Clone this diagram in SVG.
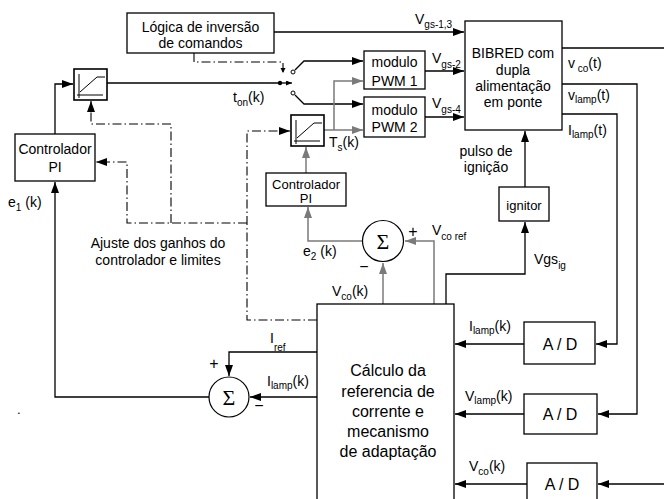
<svg xmlns="http://www.w3.org/2000/svg" width="664" height="499" viewBox="0 0 664 499">
<style>
text{font-family:"Liberation Sans",Arial,sans-serif;fill:#000}
.t14{font-size:14px}
.t13{font-size:13px}
.t16{font-size:16px}
.c{text-anchor:middle}
.sub{font-size:10px}
.box{fill:#fff;stroke:#000;stroke-width:1.3}
.ln{fill:none;stroke:#000;stroke-width:1.3}
.gl{fill:none;stroke:#7a7a7a;stroke-width:1.5}
.dd{fill:none;stroke:#000;stroke-width:1.1;stroke-dasharray:9,3,1.5,3}
.sig{font-family:"Liberation Serif","Times New Roman",serif;font-size:22px}
</style>
<defs>
<marker id="a" markerUnits="userSpaceOnUse" markerWidth="12" markerHeight="10" refX="11" refY="4" orient="auto"><path d="M0,0 L11,4 L0,8 Z" fill="#000"/></marker>
<marker id="ag" markerUnits="userSpaceOnUse" markerWidth="12" markerHeight="10" refX="11" refY="4" orient="auto"><path d="M0,0 L11,4 L0,8 Z" fill="#7a7a7a"/></marker>
<marker id="as" markerUnits="userSpaceOnUse" markerWidth="8" markerHeight="6" refX="6" refY="2.5" orient="auto"><path d="M0,0 L6,2.5 L0,5 Z" fill="#000"/></marker>
<g id="satIcon">
<rect x="0" y="0" width="33" height="31" fill="#fff" stroke="#000" stroke-width="1.6"/>
<path d="M3,26 H29 M5,5 V29 M6,23 L23,8 H31" fill="none" stroke="#000" stroke-width="1"/>
</g>
</defs>

<g id="connectors">
<!-- logic to BIBRED -->
<path class="ln" d="M274,32 H464" marker-end="url(#a)"/>
<!-- sat1 to switch -->
<path class="ln" d="M107,83 H280"/>
<path class="ln" d="M280,83 H292" marker-end="url(#as)"/>
<circle cx="280" cy="83" r="2.2" fill="#000"/>
<!-- switch contacts -->
<circle cx="293" cy="72" r="2" fill="#fff" stroke="#000" stroke-width="1"/>
<circle cx="293" cy="93" r="2" fill="#fff" stroke="#000" stroke-width="1"/>
<path class="ln" d="M295,70 L304,61 H363" marker-end="url(#a)"/>
<path class="ln" d="M295,95 L304,104 H363" marker-end="url(#a)"/>
<!-- PWM outputs -->
<path class="ln" d="M425,71 H464" marker-end="url(#a)"/>
<path class="ln" d="M425,117 H464" marker-end="url(#a)"/>
<!-- Ts path -->
<path class="gl" d="M324,130 H363" marker-end="url(#ag)"/>
<path class="gl" d="M334,130 V81 H363" marker-end="url(#ag)"/>
<!-- PI2 to sat2 -->
<path class="gl" d="M306,173 V147" marker-end="url(#ag)"/>
<!-- e2 -->
<path class="gl" d="M362,241 H308 V207" marker-end="url(#ag)"/>
<!-- Vco ref -->
<path class="gl" d="M434,304 V241 H405" marker-end="url(#ag)"/>
<!-- Vco(k) -->
<path class="gl" d="M383,304 V263" marker-end="url(#ag)"/>
<!-- Vgs ig -->
<path class="ln" d="M446,304 V274 H525 V222" marker-end="url(#a)"/>
<path class="ln" d="M525,187 V131" marker-end="url(#a)"/>
<!-- outputs of BIBRED -->
<path class="ln" d="M562,48 H664"/>
<path class="ln" d="M562,84 H637 V414 H598" marker-end="url(#a)"/>
<path class="ln" d="M562,114 H617 V344 H596" marker-end="url(#a)"/>
<path class="ln" d="M664,484 H598" marker-end="url(#a)"/>
<!-- AD outputs -->
<path class="ln" d="M524,344 H455" marker-end="url(#a)"/>
<path class="ln" d="M524,414 H455" marker-end="url(#a)"/>
<path class="ln" d="M527,484 H455" marker-end="url(#a)"/>
<!-- lower left -->
<path class="ln" d="M317,352 H229 V376" marker-end="url(#a)"/>
<path class="ln" d="M317,397 H250" marker-end="url(#a)"/>
<path class="ln" d="M209,397 H55 V182" marker-end="url(#a)"/>
<path class="ln" d="M55,134 V84 H73" marker-end="url(#a)"/>
<!-- dash-dot adjustments -->
<path class="dd" d="M194,53 V62 H283 V72"/>
<path d="M280.5,68 L283,73 L285.5,68 Z" fill="#000"/>
<path class="dd" d="M317,320 H247 V131 H290" marker-end="url(#a)"/>
<path class="dd" d="M247,223 H127 V162 H96" marker-end="url(#a)"/>
<path class="dd" d="M171,223 V124 H91 V101" marker-end="url(#a)"/>
</g>

<g id="logica">
<rect class="box" x="127" y="13" width="147" height="40"/>
<text class="t14 c" x="200.5" y="32">Lógica de inversão</text>
<text class="t14 c" x="200.5" y="48">de comandos</text>
</g>

<g id="bibred">
<rect class="box" x="465" y="21" width="97" height="109"/>
<text class="t14 c" x="513" y="58">BIBRED com</text>
<text class="t14 c" x="513" y="75">dupla</text>
<text class="t14 c" x="513" y="91">alimentação</text>
<text class="t14 c" x="513" y="107">em ponte</text>
</g>

<g id="pwm1">
<rect class="box" x="364" y="51" width="61" height="38"/>
<text class="t14 c" x="394.5" y="67">modulo</text>
<text class="t14 c" x="394.5" y="86">PWM 1</text>
</g>

<g id="pwm2">
<rect class="box" x="364" y="97" width="61" height="40"/>
<text class="t14 c" x="394.5" y="115">modulo</text>
<text class="t14 c" x="394.5" y="132">PWM 2</text>
</g>

<g id="sat1"><use href="#satIcon" x="74" y="69"/></g>
<g id="sat2"><use href="#satIcon" x="291" y="115"/></g>

<g id="pi1">
<rect class="box" x="15" y="134" width="80" height="47"/>
<text class="t14 c" x="55" y="154">Controlador</text>
<text class="t14 c" x="55" y="172">PI</text>
</g>

<g id="pi2">
<rect class="box" x="266" y="173" width="80" height="33"/>
<text class="t13 c" x="306" y="189">Controlador</text>
<text class="t13 c" x="306" y="203">PI</text>
</g>

<g id="sigma2">
<circle cx="383" cy="241" r="20.5" fill="#fff" stroke="#000" stroke-width="1.2"/>
<text class="sig c" x="383" y="249">Σ</text>
</g>

<g id="sigma1">
<circle cx="229" cy="397" r="20" fill="#fff" stroke="#000" stroke-width="1.2"/>
<text class="sig c" x="229" y="405">Σ</text>
</g>

<g id="ignitor">
<rect class="box" x="499" y="187" width="50" height="34"/>
<text class="t13 c" x="524" y="210">ignitor</text>
</g>

<g id="calculo">
<rect class="box" x="317" y="304" width="137" height="210"/>
<text class="t16 c" x="388" y="376">Cálculo da</text>
<text class="t16 c" x="388" y="397">referencia de</text>
<text class="t16 c" x="388" y="417">corrente e</text>
<text class="t16 c" x="388" y="437">mecanismo</text>
<text class="t16 c" x="388" y="457">de adaptação</text>
</g>

<g id="ad1">
<rect class="box" x="524" y="322" width="71" height="42"/>
<text class="t16 c" x="560" y="350">A / D</text>
</g>
<g id="ad2">
<rect class="box" x="524" y="394" width="73" height="40"/>
<text class="t16 c" x="560" y="420">A / D</text>
</g>
<g id="ad3">
<rect class="box" x="527" y="463" width="70" height="50"/>
<text class="t16 c" x="562" y="490">A / D</text>
</g>

<g id="labels">
<text class="t14" x="415" y="24">V<tspan class="sub" dy="4">gs-1,3</tspan></text>
<text class="t14" x="432" y="63">V<tspan class="sub" dy="5">gs-2</tspan></text>
<text class="t14" x="432" y="108">V<tspan class="sub" dy="5">gs-4</tspan></text>
<text class="t14" x="568" y="68">v<tspan class="sub" dy="4"> co</tspan><tspan dy="-4">(t)</tspan></text>
<text class="t14" x="568" y="100">v<tspan class="sub" dy="3">lamp</tspan><tspan dy="-3">(t)</tspan></text>
<text class="t14" x="568" y="135">I<tspan class="sub" dy="3">lamp</tspan><tspan dy="-3">(t)</tspan></text>
<text class="t14" x="233" y="102">t<tspan class="sub" dy="4">on</tspan><tspan dy="-4">(k)</tspan></text>
<text class="t14" x="329" y="147">T<tspan class="sub" dy="4">s</tspan><tspan dy="-4">(k)</tspan></text>
<text class="t14" x="8" y="207">e<tspan class="sub" dy="4">1</tspan><tspan dy="-4"> (k)</tspan></text>
<text class="t14" x="303" y="256">e<tspan class="sub" dy="4">2</tspan><tspan dy="-4"> (k)</tspan></text>
<text class="t14" x="332" y="296">V<tspan class="sub" dy="4">co</tspan><tspan dy="-4">(k)</tspan></text>
<text class="t14" x="432" y="235">V<tspan class="sub" dy="5">co ref</tspan></text>
<text class="t14" x="534" y="264">Vgs<tspan class="sub" dy="5">ig</tspan></text>
<text class="t14 c" x="486" y="156">pulso de</text>
<text class="t14 c" x="486" y="172">ignição</text>
<text class="t14 c" x="158" y="248">Ajuste dos ganhos do</text>
<text class="t14 c" x="158" y="265">controlador e limites</text>
<text class="t14" x="469" y="331">I<tspan class="sub" dy="3">lamp</tspan><tspan dy="-3">(k)</tspan></text>
<text class="t14" x="465" y="401">V<tspan class="sub" dy="3">lamp</tspan><tspan dy="-3">(k)</tspan></text>
<text class="t14" x="469" y="471">V<tspan class="sub" dy="4">co</tspan><tspan dy="-4">(k)</tspan></text>
<text class="t14" x="270" y="343">I<tspan class="sub" dy="8">ref</tspan></text>
<text class="t14" x="267" y="386">I<tspan class="sub" dy="3">lamp</tspan><tspan dy="-3">(k)</tspan></text>
<text class="t16 c" x="413" y="237">+</text>
<text class="t16 c" x="364" y="272">−</text>
<text class="t16 c" x="214" y="369">+</text>
<text class="t16 c" x="259" y="411">−</text>
<text class="t13" x="17" y="414">.</text>
</g>
</svg>
